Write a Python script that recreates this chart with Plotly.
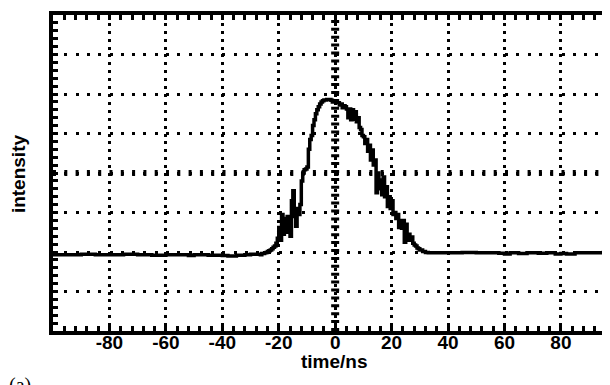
import plotly.graph_objects as go

# ---- data ----
time_ns = [
    -100, -95, -90, -85, -80, -75, -70, -65, -60, -55, -52, -50, -45, -40, -38, -35, -32,
    -30, -29, -28, -27, -26.5, -26, -25, -24.5, -24, -23.5, -23, -22.5, -22, -21.5, -21,
    -20.5, -20, -19.5, -19, -18.5, -18, -17.5, -17, -16.5, -16, -15.5, -15, -14.5, -14,
    -13.5, -13, -12.5, -12, -11.5, -11, -10.5, -10, -9.5, -9, -8.5, -8, -7.5, -7, -6.5,
    -6, -5.5, -5, -4.5, -4, -3, -2, -1.5, -1, 0, 0.5, 1, 1.5, 2, 2.5, 3, 3.5, 4, 4.5, 5,
    5.5, 6, 6.5, 7, 7.5, 8, 8.5, 9, 9.5, 10, 10.5, 11, 11.5, 12, 12.5, 13, 13.5, 14, 14.5,
    15, 15.5, 16, 16.5, 17, 17.5, 18, 18.5, 19, 19.5, 20, 20.5, 21, 21.5, 22, 22.5, 23,
    23.5, 24, 24.5, 25, 25.5, 26, 26.5, 27, 27.5, 28, 28.5, 29, 29.5, 30, 31, 32, 33, 35,
    38, 40, 42, 45, 50, 55, 58, 60, 62, 65, 68, 72, 75, 78, 80, 82, 85, 90, 95, 97.5,
]
intensity = [
    1.93, 1.93, 1.94, 1.93, 1.93, 1.94, 1.93, 1.92, 1.93, 1.93, 1.91, 1.93, 1.92, 1.91, 1.90, 1.92, 1.93,
    1.94, 1.94, 1.94, 1.94, 1.93, 1.96, 1.98, 1.99, 2.01, 2.03, 2.05, 2.08, 2.12, 2.15, 2.22,
    2.35, 2.62, 2.30, 2.95, 2.45, 2.85, 2.50, 2.90, 2.65, 2.40, 3.30, 3.55, 2.90, 2.65,
    3.10, 2.95, 3.20, 3.80, 4.00, 4.08, 4.10, 4.15, 4.60, 4.85, 4.95, 5.20, 5.35, 5.50, 5.60,
    5.68, 5.75, 5.80, 5.83, 5.85, 5.86, 5.86, 5.84, 5.80, 5.80, 5.78, 5.78, 5.72, 5.75, 5.65, 5.70, 5.68, 5.62, 5.40, 5.62,
    5.35, 5.60, 5.36, 5.55, 5.30, 5.40, 5.15, 5.10, 4.95, 4.92, 4.75, 4.85, 4.55, 4.70, 4.33, 4.58, 4.20, 4.33, 3.50,
    4.00, 3.60, 3.82, 3.45, 3.90, 3.40, 3.65, 3.15, 3.40, 3.10, 3.30, 2.95, 3.00, 2.85, 2.95, 2.62, 2.80,
    2.60, 2.80, 2.25, 2.70, 2.30, 2.45, 2.30, 2.38, 2.22, 2.18, 2.15, 2.10, 2.08, 2.05, 2.01, 1.99, 1.98, 1.98,
    1.98, 1.98, 1.98, 1.99, 1.98, 1.98, 1.97, 1.95, 1.98, 1.96, 1.98, 1.97, 1.98, 1.95, 1.96, 1.95, 1.98, 1.98, 1.99, 1.98,
]
x_tickvals = [-80, -60, -40, -20, 0, 20, 40, 60, 80]
x_ticktext = ["-80", "-60", "-40", "-20", "0", "20", "40", "60", "80"]
y_tickvals = [0, 1, 2, 3, 4, 5, 6, 7, 8]

X_RANGE = [-100, 97.4]
Y_RANGE = [0, 8]

fig = go.Figure()
fig.add_trace(go.Scatter(
    x=time_ns, y=intensity, mode="lines",
    line=dict(color="black", width=3.5, shape="hv"),
    showlegend=False, hoverinfo="skip",
))

# oscilloscope-like centre crosshair
fig.add_shape(type="line", xref="x", yref="y", x0=0, x1=0, y0=Y_RANGE[0], y1=Y_RANGE[1],
              line=dict(color="black", width=8, dash="3px,4.9px"), layer="below")
fig.add_shape(type="line", xref="x", yref="y", x0=X_RANGE[0], x1=X_RANGE[1], y0=4, y1=4,
              line=dict(color="black", width=6, dash="3px,8.3px"), layer="below")

fig.update_xaxes(
    range=X_RANGE, tickvals=x_tickvals, ticktext=x_ticktext,
    showline=True, linecolor="black", linewidth=4, mirror="allticks",
    ticks="inside", ticklen=5, tickwidth=3, tickcolor="black",
    minor=dict(dtick=4, tick0=0, ticks="inside", ticklen=5, tickwidth=3, tickcolor="black", showgrid=False),
    showgrid=True, gridcolor="black", gridwidth=3, griddash="3px,4.9px",
    zeroline=False, ticklabelstandoff=-9,
    tickfont=dict(family="Liberation Sans", size=19, color="black", weight="bold"),
)
fig.update_yaxes(
    range=Y_RANGE, tickvals=y_tickvals, showticklabels=False,
    showline=True, linecolor="black", linewidth=4, mirror=False,
    ticks="inside", ticklen=5, tickwidth=2.5, tickcolor="black",
    minor=dict(dtick=0.2, tick0=0, ticks="inside", ticklen=5, tickwidth=2.5, tickcolor="black", showgrid=False),
    showgrid=True, gridcolor="black", gridwidth=3, griddash="3px,8.3px",
    zeroline=False,
)

fig.add_annotation(text="time/ns", xref="paper", yref="paper", x=0.506, y=-0.095,
                   xanchor="center", yanchor="middle", showarrow=False,
                   font=dict(family="Liberation Sans", size=19, color="black", weight="bold"))
fig.add_annotation(text="intensity", xref="paper", yref="paper", x=-0.062, y=0.498,
                   xanchor="center", yanchor="middle", showarrow=False, textangle=-90,
                   font=dict(family="Liberation Sans", size=19, color="black", weight="bold"))
fig.add_annotation(text="(a)", xref="paper", yref="paper", x=-0.06, y=-0.13,
                   xanchor="center", yanchor="top", showarrow=False,
                   font=dict(family="Liberation Serif", size=20, color="black"))

# the page body adds an 8 px offset, so the figure is 8 px smaller than the window
fig.update_layout(
    width=602, height=377,
    margin=dict(l=45, r=0, t=7, b=54),
    paper_bgcolor="white", plot_bgcolor="white",
)
fig.write_html("out.html")
